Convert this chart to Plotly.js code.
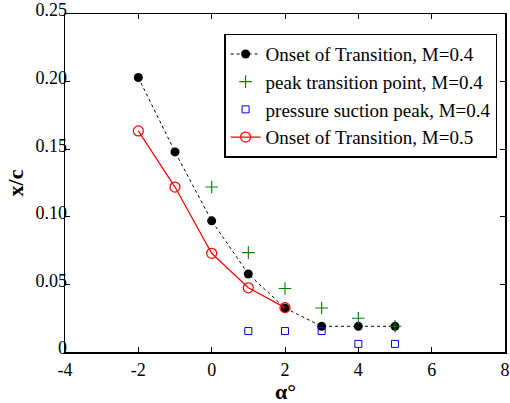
<!DOCTYPE html>
<html>
<head>
<meta charset="utf-8">
<script src="https://cdn.plot.ly/plotly-3.0.1.min.js"></script>
<style>
  html, body { margin: 0; padding: 0; background: #fff; }
  #chart { width: 510px; height: 403px; }
</style>
</head>
<body>
<div id="chart"></div>
<script>
// Angle of attack (deg)
const alphaOnset04 = [-2, -1, 0, 1, 2, 3, 4, 5];
const onset04 = [0.203, 0.148, 0.097, 0.0577, 0.0325, 0.019, 0.019, 0.019];

const alphaPeak04 = [0, 1, 2, 3, 4, 5];
const peak04 = [0.122, 0.0735, 0.047, 0.0325, 0.025, 0.019];

const alphaSuction04 = [1, 2, 3, 4, 5];
const suction04 = [0.0155, 0.0155, 0.0155, 0.006, 0.006];

const alphaOnset05 = [-2, -1, 0, 1, 2];
const onset05 = [0.1635, 0.122, 0.073, 0.0475, 0.0328];

const xTicks = [-4, -2, 0, 2, 4, 6, 8];
const xTickText = ['-4', '-2', '0', '2', '4', '6', '8'];
const yTicks = [0, 0.05, 0.10, 0.15, 0.20, 0.25];
const yTickText = ['0', '0.05', '0.10', '0.15', '0.20', '0.25'];

const serif = 'Liberation Serif, Times New Roman, serif';

const traces = [
  {
    x: alphaOnset04, y: onset04, name: 'Onset of Transition, M=0.4',
    mode: 'lines+markers',
    line: { color: '#000', width: 1, dash: 'dot' },
    marker: { color: '#000', size: 9, symbol: 'circle' }
  },
  {
    x: alphaPeak04, y: peak04, name: 'peak transition point, M=0.4',
    mode: 'markers',
    marker: { color: '#008000', size: 9, symbol: 'cross-thin-open', line: { color: '#008000', width: 1.1 } }
  },
  {
    x: alphaSuction04, y: suction04, name: 'pressure suction peak, M=0.4',
    mode: 'markers',
    marker: { color: '#0000ff', size: 7, symbol: 'square-open', line: { color: '#0000ff', width: 1 } }
  },
  {
    x: alphaOnset05, y: onset05, name: 'Onset of Transition, M=0.5',
    mode: 'lines+markers',
    line: { color: '#ff0000', width: 1.2 },
    marker: { color: '#ff0000', size: 10, symbol: 'circle-open', line: { color: '#ff0000', width: 1.2 } }
  }
];

const axisCommon = {
  showgrid: false, zeroline: false,
  showline: true, linecolor: '#000', linewidth: 1.5, mirror: 'ticks',
  ticks: 'inside', ticklen: 5, tickcolor: '#000', tickwidth: 1,
  tickfont: { family: serif, size: 18, color: '#000' }
};

const layout = {
  width: 510, height: 403,
  margin: { l: 65, r: 5, t: 14, b: 51 },
  paper_bgcolor: '#fff', plot_bgcolor: '#fff',
  showlegend: true,
  xaxis: Object.assign({}, axisCommon, {
    range: [-4, 8], tickmode: 'array', tickvals: xTicks, ticktext: xTickText,
    ticklabelstandoff: 1
  }),
  yaxis: Object.assign({}, axisCommon, {
    range: [0, 0.25], tickmode: 'array', tickvals: yTicks, ticktext: yTickText,
    ticklabelstandoff: -7, ticklabelshift: -4,
    title: { text: '<b>x/c</b>', font: { family: serif, size: 22, color: '#000' }, standoff: 5 }
  }),
  // x-axis title placed below the tick labels
  annotations: [{
    text: '<b>α°</b>', xref: 'paper', yref: 'paper', x: 0.5, y: -0.118,
    xanchor: 'center', yanchor: 'middle', showarrow: false,
    font: { family: serif, size: 22, color: '#000' }
  }],
  legend: {
    x: 0.982, y: 0.942, xanchor: 'right', yanchor: 'top',
    bgcolor: '#fff', bordercolor: '#000', borderwidth: 1.5,
    font: { family: serif, size: 19, color: '#000' },
    itemwidth: 30, tracegroupgap: 0
  }
};

Plotly.newPlot('chart', traces, layout, { displayModeBar: false, staticPlot: true });
</script>
</body>
</html>
